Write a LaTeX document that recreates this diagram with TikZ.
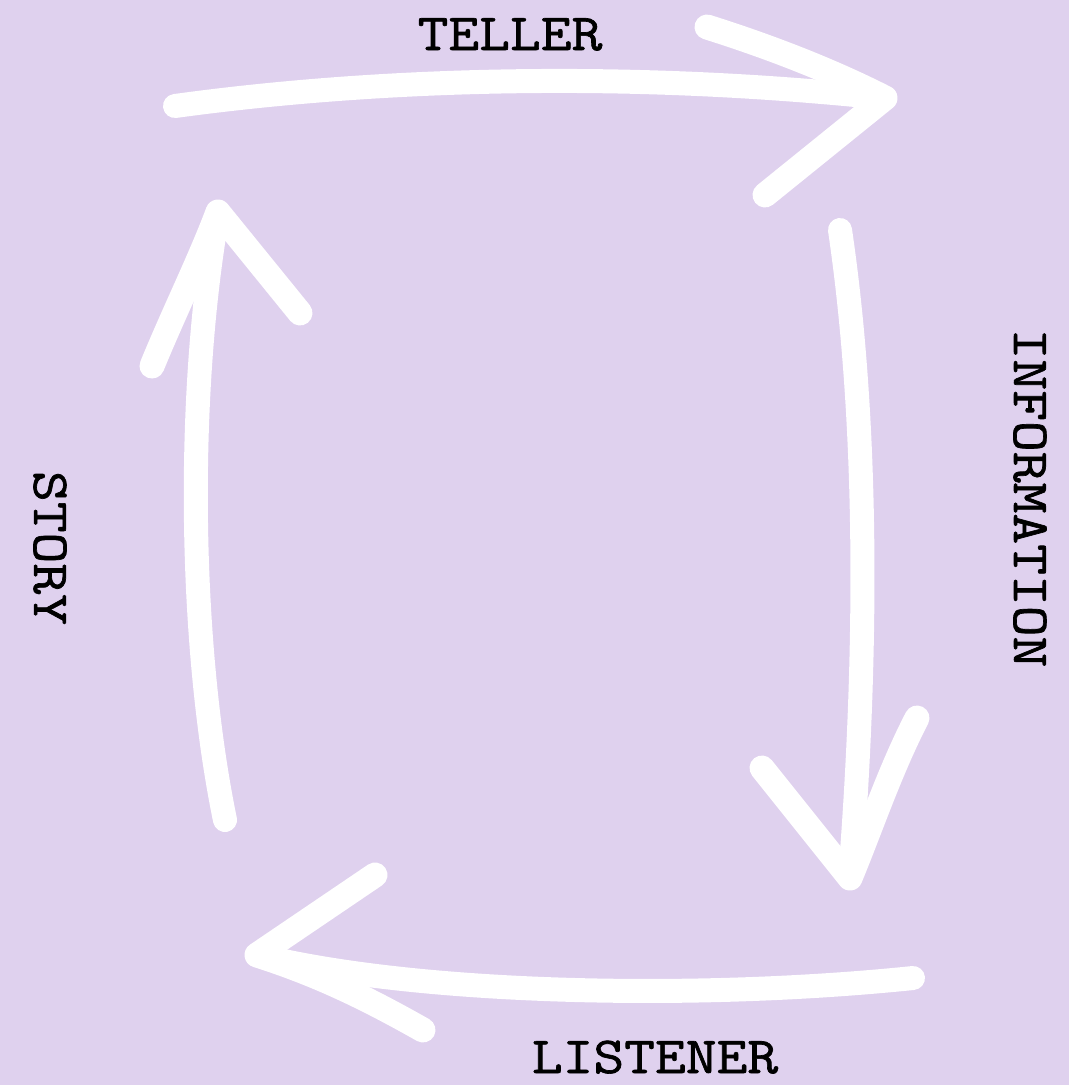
\documentclass[tikz,border=0pt]{standalone}
\usepackage{fontspec}
\setmonofont[FakeStretch=1.15,FakeBold=1.3]{Latin Modern Mono}
\definecolor{bgpurple}{RGB}{223,209,238}
\tikzset{
  shaft/.style={draw=white, line width=24pt, line cap=round, line join=round},
  barb/.style={draw=white, line width=25pt, line cap=round, line join=round},
  lbl/.style={font=\ttfamily\fontsize{52}{52}\selectfont, text=black, inner sep=0pt}
}
\begin{document}
\begin{tikzpicture}[x=1pt,y=-1pt]
\fill[bgpurple] (0,0) rectangle (1069,1085);
\useasboundingbox (0,0) rectangle (1069,1085);
% labels
\node[lbl, anchor=base] (teller) at (510,50) {TELLER};
\node[lbl, rotate=-90] (info) at (1030,498) {INFORMATION};
\node[lbl, rotate=-90] (story) at (50,548) {STORY};
\node[lbl, anchor=base] (listener) at (655,1073) {LISTENER};
% top arrow
\coordinate (t0) at (175,106);
\coordinate (t1) at (885,98);
\coordinate (t2) at (707,27);
\coordinate (t3) at (765,195);
\draw[shaft] (t0) .. controls (350,82) and (600,68) .. (t1);
\draw[barb] (t2) .. controls (780,50) and (840,75) .. (t1) -- (t3);
% right arrow
\coordinate (r0) at (840,230);
\coordinate (r1) at (850,878);
\coordinate (r2) at (762,768);
\coordinate (r3) at (917,718);
\draw[shaft] (r0) .. controls (868,420) and (868,650) .. (r1);
\draw[barb] (r2) -- (r1) .. controls (870,830) and (890,770) .. (r3);
% bottom arrow
\coordinate (b0) at (913,978);
\coordinate (b1) at (257,955);
\coordinate (b2) at (375,875);
\coordinate (b3) at (423,1030);
\draw[shaft] (b0) .. controls (700,1000) and (420,995) .. (b1);
\draw[barb] (b2) -- (b1) .. controls (320,975) and (370,1000) .. (b3);
% left arrow
\coordinate (l0) at (225,820);
\coordinate (l1) at (218,212);
\coordinate (l2) at (152,366);
\coordinate (l3) at (300,313);
\draw[shaft] (l0) .. controls (190,650) and (185,400) .. (l1);
\draw[barb] (l2) .. controls (175,310) and (200,260) .. (l1) -- (l3);
\end{tikzpicture}
\end{document}
